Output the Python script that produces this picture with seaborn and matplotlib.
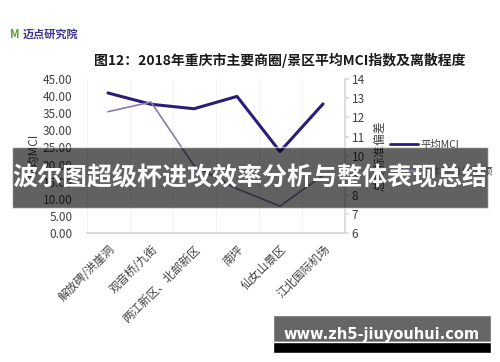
import matplotlib
matplotlib.use("Agg")
import matplotlib.pyplot as plt
import seaborn as sns
import pandas as pd
from matplotlib.patches import Rectangle
from matplotlib.lines import Line2D

categories = ["解放碑/洪崖洞", "观音桥/九街", "两江新区、北部新区", "南坪", "仙女山景区", "江北国际机场"]
mci_values = [40.9, 37.6, 36.3, 39.9, 23.8, 37.7]
std_values = [12.3, 12.8, 9.5, 8.3, 7.4, 9.0]
left_ticks = [0, 5, 10, 15, 20, 25, 30, 35, 40, 45]
right_ticks = [6, 7, 8, 9, 10, 11, 12, 13, 14]

sns.set_theme(style="white")
plt.rcParams['font.family'] = ['Noto Sans CJK SC', 'DejaVu Sans']

df = pd.DataFrame({"cat": categories, "mci": mci_values, "std": std_values})

fig = plt.figure(figsize=(5.0, 3.62), dpi=100)
ax = fig.add_axes([0.173, 0.356, 0.516, 0.426])
ax2 = ax.twinx()

c_mci = "#2d1b78"
c_std = "#8a7cae"

sns.lineplot(data=df, x="cat", y="mci", ax=ax, color=c_mci, linewidth=2.2, sort=False)
sns.lineplot(data=df, x="cat", y="std", ax=ax2, color=c_std, linewidth=1.2, sort=False)

ax.set_xlim(-0.5, len(categories) - 0.5)
ax.set_ylim(0, 45)
ax.set_yticks(left_ticks)
ax.set_yticklabels([f"{v:.2f}" for v in left_ticks], fontsize=8.5, color="#404040")
ax2.set_ylim(6, 14)
ax2.set_yticks(right_ticks)
ax2.set_yticklabels([str(v) for v in right_ticks], fontsize=8.5, color="#404040")

ax.set_xticks(range(len(categories)))
ax.set_xticklabels(categories, rotation=45, ha="right", rotation_mode="anchor", fontsize=8.3, color="#404040")
ax.set_xlabel("")
ax.set_ylabel("平均MCI", fontsize=8.5, color="#404040", labelpad=2)
ax2.set_ylabel("总体标准偏差", fontsize=8.5, color="#404040", labelpad=6)

for a in (ax, ax2):
    for s in ["top", "left"]:
        a.spines[s].set_visible(False)
ax.spines["right"].set_visible(False)
ax2.spines["right"].set_color("#d9d9d9")
ax2.spines["bottom"].set_color("#d9d9d9")
ax.spines["bottom"].set_color("#d9d9d9")
ax.tick_params(axis="y", length=0, pad=10)
ax.tick_params(axis="x", length=0, pad=7)
ax2.tick_params(axis="y", length=3, color="#d9d9d9", pad=2, direction="out")

for i in range(len(categories) + 1):
    ax.axvline(i - 0.5, color="#f3f3f3", linewidth=0.8, zorder=0)

handles = [Line2D([0], [0], color=c_mci, linewidth=2.0),
           Line2D([0], [0], color=c_std, linewidth=1.2)]
fig.legend(handles, ["平均MCI", "总体标准偏差项"], loc="upper left",
           bbox_to_anchor=(0.761, 0.64), frameon=False, fontsize=7.5,
           handlelength=2.7, handletextpad=0.2, labelspacing=1.6, labelcolor="#404040")

fig.text(0.56, 0.833, "图12：2018年重庆市主要商圈/景区平均MCI指数及离散程度",
         ha="center", va="center", fontsize=10, fontweight="bold", color="#1a1a1a")
fig.text(0.02, 0.905, "M", ha="left", va="center", fontsize=8, fontweight="bold", color="#5aa02c")
fig.text(0.045, 0.905, "迈点研究院", ha="left", va="center", fontsize=8, fontweight="bold", color="#3b3592")

# overlay banners
fig.patches.append(Rectangle((12 / 500, 1 - 208 / 362), 476 / 500, 61 / 362,
                             transform=fig.transFigure, facecolor="#000000", alpha=0.62, zorder=5))
fig.text(0.5, 1 - 178 / 362, "波尔图超级杯进攻效率分析与整体表现总结", ha="center", va="center",
         fontsize=18, fontweight="bold", color="white", zorder=6)
fig.patches.append(Rectangle((273 / 500, 1 - 342 / 362), 218 / 500, 27 / 362,
                             transform=fig.transFigure, facecolor="#666666", zorder=5))
fig.patches.append(Rectangle((273 / 500, 1 - 353 / 362), 218 / 500, 11 / 362,
                             transform=fig.transFigure, facecolor="#000000", zorder=5))
fig.text(382 / 500, 1 - 335 / 362, "www.zh5-jiuyouhui.com", ha="center", va="center",
         fontsize=10.5, fontweight="bold", color="white", family=["DejaVu Sans"], zorder=6)

fig.savefig("out.png", dpi=100)
